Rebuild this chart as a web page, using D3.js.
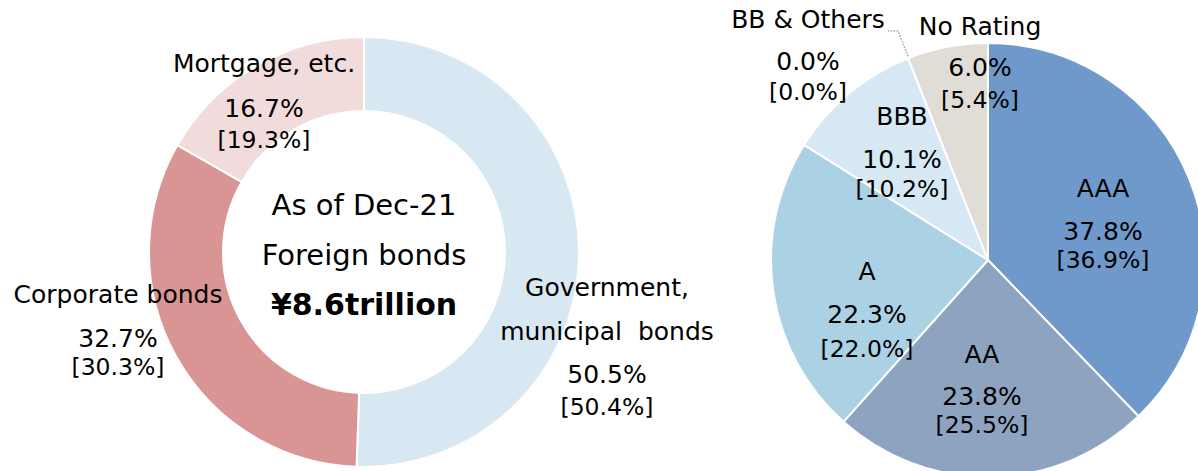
<!DOCTYPE html>
<html>
<head>
<meta charset="utf-8">
<script src="https://cdn.jsdelivr.net/npm/d3@7"></script>
<style>
  body { margin: 0; background: #fff; }
  svg { display: block; font-family: "DejaVu Sans", Verdana, sans-serif; }
  text { fill: #000; }
</style>
</head>
<body>
<svg></svg>
<script>
const WIDTH = 1198;
const HEIGHT = 471;

// Left donut: foreign bonds by type
const bondTypes = ['Government, municipal bonds', 'Corporate bonds', 'Mortgage, etc.'];
const bondShares = [50.5, 32.7, 16.7];
const bondPrev = [50.4, 30.3, 19.3];
const bondColors = ['#d7e8f3', '#d99594', '#f2dbdb'];

// Right pie: by rating
const ratings = ['AAA', 'AA', 'A', 'BBB', 'BB & Others', 'No Rating'];
const ratingShares = [37.8, 23.8, 22.3, 10.1, 0.0, 6.0];
const ratingPrev = [36.9, 25.5, 22.0, 10.2, 0.0, 5.4];
const ratingColors = ['#7099cb', '#8da3bf', '#abd1e4', '#d6e8f3', '#cfd8e4', '#e0ddd6'];

const centerLines = ['As of Dec-21', 'Foreign bonds'];
const centerTotal = '¥8.6trillion';

// label placement, relative to each chart's centre (x, name baselines, pct, prev)
const bondLabelLayout = [
  {x: 243, names: [44, 88], pct: 131, prev: 163, nameLines: ['Government,', 'municipal  bonds']},
  {x: -246, names: [51], pct: 95, prev: 123, nameLines: ['Corporate bonds']},
  {x: -100, names: [-180], pct: -135, prev: -104, nameLines: ['Mortgage, etc.']}
];
const ratingLabelLayout = [
  {x: 115, names: [-63], pct: -20, prev: 8},
  {x: -6, names: [103], pct: 145, prev: 173},
  {x: -121, names: [20], pct: 63, prev: 97},
  {x: -86, names: [-135], pct: -92, prev: -63},
  {x: -180, names: [-232], pct: -190, prev: -160},
  {x: -8, names: [-225], pct: -184, prev: -152}
];

const fmt = d3.format('.1f');

const svg = d3.select('svg')
    .attr('width', WIDTH)
    .attr('height', HEIGHT);

function drawLabels(g, layout, names, shares, prev) {
  layout.forEach((l, i) => {
    const lines = l.nameLines || [names[i]];
    lines.forEach((t, j) => {
      g.append('text')
          .attr('x', l.x)
          .attr('y', l.names[j])
          .attr('text-anchor', 'middle')
          .attr('font-size', 25)
          .style('white-space', 'pre')
          .text(t);
    });
    g.append('text')
        .attr('x', l.x)
        .attr('y', l.pct)
        .attr('text-anchor', 'middle')
        .attr('font-size', 25)
        .text(`${fmt(shares[i])}%`);
    g.append('text')
        .attr('x', l.x)
        .attr('y', l.prev)
        .attr('text-anchor', 'middle')
        .attr('font-size', 23.5)
        .text(`[${fmt(prev[i])}%]`);
  });
}

// ---- donut
const donut = svg.append('g').attr('transform', 'translate(364, 252)');
const donutPie = d3.pie().sort(null).value((d) => d);
const donutArc = d3.arc().innerRadius(141).outerRadius(215);

donut.selectAll('path')
    .data(donutPie(bondShares))
    .join('path')
    .attr('d', donutArc)
    .attr('fill', (d, i) => bondColors[i])
    .attr('stroke', '#fff')
    .attr('stroke-width', 2);

drawLabels(donut, bondLabelLayout, bondTypes, bondShares, bondPrev);

donut.selectAll('text.center')
    .data(centerLines)
    .join('text')
    .attr('class', 'center')
    .attr('x', 0)
    .attr('y', (d, i) => -37 + i * 50)
    .attr('text-anchor', 'middle')
    .attr('font-size', 29)
    .text((d) => d);

donut.append('text')
    .attr('x', 0)
    .attr('y', 63)
    .attr('text-anchor', 'middle')
    .attr('font-size', 30)
    .attr('font-weight', 'bold')
    .text(centerTotal);

// ---- rating pie
const pieG = svg.append('g').attr('transform', 'translate(988, 260)');
const ratingPie = d3.pie().sort(null).value((d) => d);
const pieArc = d3.arc().innerRadius(0).outerRadius(217);

pieG.selectAll('path')
    .data(ratingPie(ratingShares))
    .join('path')
    .attr('d', pieArc)
    .attr('fill', (d, i) => ratingColors[i])
    .attr('stroke', '#fff')
    .attr('stroke-width', 2);

// leader line for the zero slice
const zeroSlice = ratingPie(ratingShares)[4];
const edge = d3.pointRadial(zeroSlice.startAngle, 217);
pieG.append('polyline')
    .attr('points', [[edge[0], edge[1] - 2], [-90, -229], [-100, -229]].map((p) => p.join(',')).join(' '))
    .attr('fill', 'none')
    .attr('stroke', '#a6a6a6')
    .attr('stroke-width', 1.5)
    .attr('stroke-dasharray', '1.5,1.5');

drawLabels(pieG, ratingLabelLayout, ratings, ratingShares, ratingPrev);
</script>
</body>
</html>
